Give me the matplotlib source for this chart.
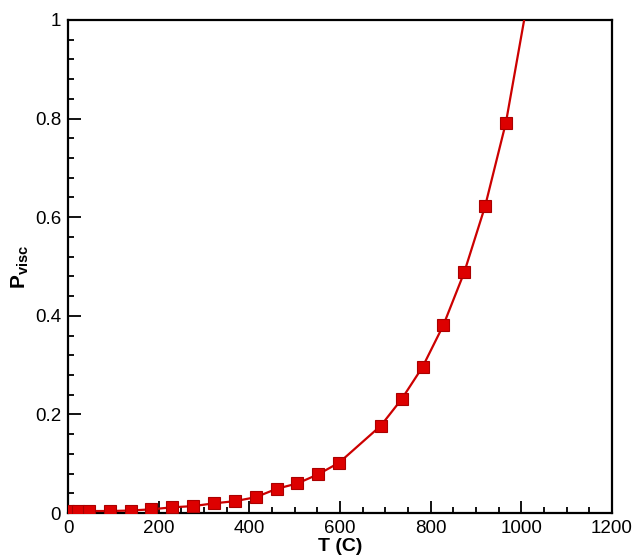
import matplotlib
matplotlib.use("Agg")
import matplotlib.pyplot as plt
from matplotlib.ticker import MultipleLocator, FuncFormatter

# Data
temperature = [0, 23, 46, 92, 138, 184, 230, 276, 322, 368, 414, 460, 506,
               552, 598, 690, 736, 782, 828, 874, 920, 966, 1012]
p_visc = [0.004, 0.004, 0.004, 0.004, 0.005, 0.0075, 0.0115, 0.014, 0.0196,
          0.024, 0.032, 0.049, 0.060, 0.0785, 0.102, 0.177, 0.231, 0.296,
          0.381, 0.488, 0.622, 0.792, 1.03]

x_ticks = [0, 200, 400, 600, 800, 1000, 1200]
y_ticks = [0, 0.2, 0.4, 0.6, 0.8, 1.0]

plt.rcParams['font.family'] = ['Liberation Sans', 'DejaVu Sans']
plt.rcParams['mathtext.fontset'] = 'custom'
plt.rcParams['mathtext.rm'] = 'Liberation Sans'
plt.rcParams['mathtext.bf'] = 'Liberation Sans:bold'

fig = plt.figure(figsize=(6.33, 5.59), dpi=100)
ax = fig.add_axes([68/633, 1-513/559, (612-68)/633, (513-20)/559])

ax.plot(temperature, p_visc, color='#cc0000', lw=1.6, marker='s', ms=8,
        mfc='#dd0000', mec='#aa0000', mew=0.8,
        markevery=list(range(len(temperature)-1)), clip_on=True, zorder=3)

ax.set_xlim(0, 1200)
ax.set_ylim(0, 1)
ax.set_xticks(x_ticks)
ax.set_yticks(y_ticks)
ax.xaxis.set_minor_locator(MultipleLocator(50))
ax.yaxis.set_minor_locator(MultipleLocator(0.04))
ax.yaxis.set_major_formatter(FuncFormatter(lambda v, p: f"{v:g}"))
ax.tick_params(which='both', direction='in', top=False, right=False,
               labelsize=13.5, width=1.3)
ax.tick_params(which='major', length=9, pad=5)
ax.tick_params(which='minor', length=4.5)
for s in ax.spines.values():
    s.set_linewidth(1.6)

ax.set_xlabel('T (C)', fontsize=14, fontweight='bold', labelpad=1)
ax.set_ylabel(r'$\mathbf{P}_{\mathbf{visc}}$', fontsize=15, labelpad=3)

fig.savefig('out.png', dpi=100)
